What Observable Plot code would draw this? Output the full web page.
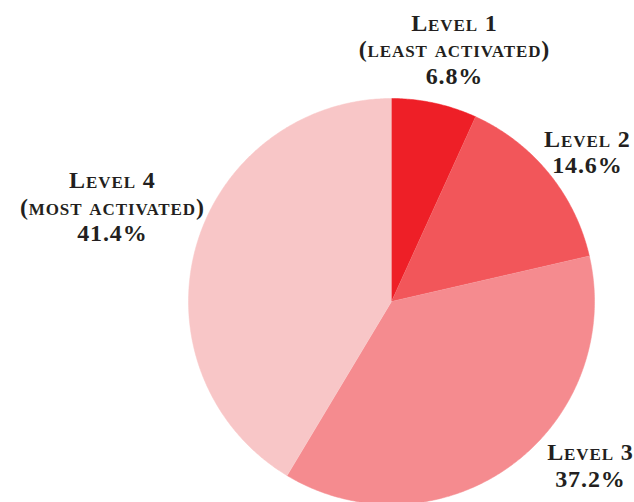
<!DOCTYPE html>
<html>
<head>
<meta charset="utf-8">
<script src="https://cdn.jsdelivr.net/npm/d3@7"></script>
<script src="https://cdn.jsdelivr.net/npm/@observablehq/plot@0.6"></script>
<style>
  html, body { margin: 0; padding: 0; background: #fff; }
  #chart { width: 634px; height: 502px; }
  #chart svg text { letter-spacing: 0.9px; }
</style>
</head>
<body>
<div id="chart"></div>
<script>
// ---- data ----
const levels = ["Level 1", "Level 2", "Level 3", "Level 4"];
const subLabels = ["(least activated)", "", "", "(most activated)"];
const shares = [6.8, 14.6, 37.2, 41.4];
const sliceColors = ["#ee1f27", "#f2565a", "#f58b8f", "#f8c6c7"];

// ---- layout (label anchors in chart units, radius = 1) ----
const labelX = [0.31, 0.965, 0.98, -1.375];
const labelY = [1.245, 0.74, -0.805, 0.47];

// build slice polygons from the shares
const total = d3.sum(shares);
const slices = [];
let acc = 0;
levels.forEach((lvl, i) => {
  const a0 = acc / total * 2 * Math.PI;
  acc += shares[i];
  const a1 = acc / total * 2 * Math.PI;
  slices.push({level: lvl, x: 0, y: 0});
  const n = Math.max(2, Math.ceil((a1 - a0) / (Math.PI / 360)));
  for (let k = 0; k <= n; k++) {
    const a = a0 + (a1 - a0) * k / n;
    slices.push({level: lvl, x: Math.sin(a), y: Math.cos(a)});
  }
});

const labels = levels.map((lvl, i) => ({
  text: [lvl, subLabels[i], shares[i].toFixed(1) + "%"].filter(s => s).join("\n"),
  x: labelX[i],
  y: labelY[i]
}));

const chart = Plot.plot({
  width: 634,
  height: 502,
  margin: 0,
  x: {domain: [-1, 1], range: [188, 594], axis: null},
  y: {domain: [-1, 1], range: [504, 98], axis: null},
  color: {domain: levels, range: sliceColors},
  style: {background: "#fff"},
  marks: [
    Plot.line(slices, {x: "x", y: "y", z: "level", fill: "level", stroke: "level", strokeWidth: 0.5}),
    Plot.text(labels, {
      x: "x", y: "y", text: "text",
      fontFamily: "Liberation Serif",
      fontWeight: "bold",
      fontVariant: "small-caps",
      fontSize: 24,
      lineHeight: 1.1,
      fill: "#231f20"
    })
  ]
});
document.getElementById("chart").appendChild(chart);
</script>
</body>
</html>
